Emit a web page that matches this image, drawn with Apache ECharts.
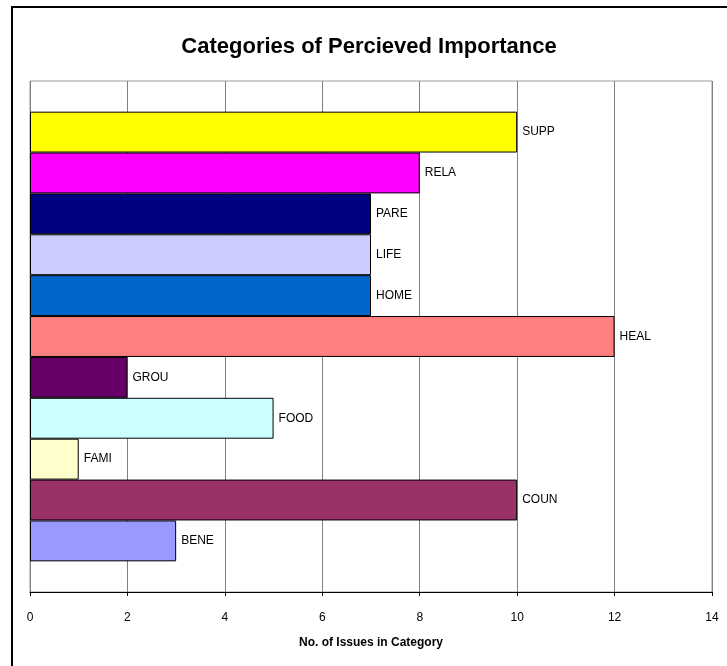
<!DOCTYPE html>
<html>
<head>
<meta charset="utf-8">
<script src="https://cdn.jsdelivr.net/npm/echarts@6/dist/echarts.min.js"></script>
<style>
  html, body { margin: 0; padding: 0; background: #fff; }
  #chart { width: 727px; height: 666px; }
</style>
</head>
<body>
<div id="chart"></div>
<script>
// top to bottom, as in the picture (first series is drawn on top)
const names = ["SUPP", "RELA", "PARE", "LIFE", "HOME", "HEAL", "GROU", "FOOD", "FAMI", "COUN", "BENE"];
const counts = [10, 8, 7, 7, 7, 12, 2, 5, 1, 10, 3];
const colors = ["#FFFF00", "#FF00FF", "#000080", "#CCCCFF", "#0066CC", "#FF8080",
  "#660066", "#CCFFFF", "#FFFFCC", "#993366", "#9999FF"];
const xTicks = [0, 2, 4, 6, 8, 10, 12, 14];

const chart = echarts.init(document.getElementById("chart"));

const series = names.map((n, i) => ({
  name: n,
  type: "bar",
  data: [counts[i]],
  barGap: "0%",
  barCategoryGap: "12%",
  itemStyle: { color: colors[i], borderColor: "#000", borderWidth: 1 },
  label: {
    show: true,
    position: "right",
    distance: 5,
    formatter: "{a}",
    color: "#000",
    fontFamily: "Liberation Sans, Arial, sans-serif",
    fontSize: 12
  }
}));

chart.setOption({
  animation: false,
  title: {
    text: "Categories of Percieved Importance",
    left: 364,
    top: 31,
    textAlign: "center",
    textStyle: {
      fontFamily: "Liberation Sans, Arial, sans-serif",
      fontWeight: "bold",
      fontSize: 22,
      color: "#000"
    }
  },
  graphic: [{
    type: "rect",
    shape: { x: 12, y: 7, width: 740, height: 700 },
    style: { fill: null, stroke: "#000", lineWidth: 2 },
    silent: true
  }],
  grid: { left: 30, top: 81, right: 15, bottom: 74, show: true, borderColor: "#999", borderWidth: 1 },
  xAxis: {
    type: "value",
    min: 0,
    max: 14,
    interval: 2,
    name: "No. of Issues in Category",
    nameLocation: "middle",
    nameGap: 45,
    nameTextStyle: {
      fontFamily: "Liberation Sans, Arial, sans-serif",
      fontWeight: "bold",
      fontSize: 12,
      color: "#000"
    },
    axisLine: { show: true, lineStyle: { color: "#000", width: 1 } },
    axisTick: { show: true, length: 4, lineStyle: { color: "#000" } },
    axisLabel: {
      margin: 20,
      color: "#000",
      fontFamily: "Liberation Sans, Arial, sans-serif",
      fontSize: 12,
      formatter: v => xTicks.includes(v) ? String(v) : ""
    },
    splitLine: { show: true, lineStyle: { color: "#808080", width: 1 } }
  },
  yAxis: {
    type: "category",
    data: [""],
    axisLine: { show: false },
    axisTick: { show: false },
    axisLabel: { show: false }
  },
  series: series
});
</script>
</body>
</html>
